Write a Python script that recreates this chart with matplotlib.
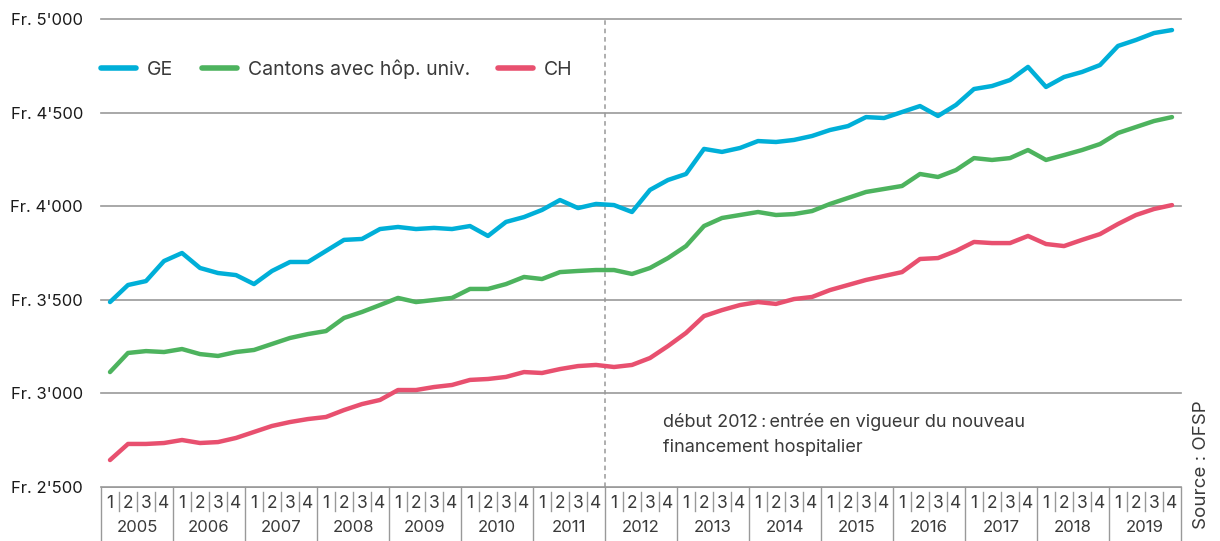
import matplotlib
matplotlib.use("Agg")
import matplotlib.pyplot as plt

plt.rcParams['font.family'] = ['Inter', 'DejaVu Sans']

years = [str(y) for y in range(2005, 2020)]
quarters = ["1", "2", "3", "4"]
ytick_values = [2500, 3000, 3500, 4000, 4500, 5000]
ytick_labels = ["Fr. 2'500", "Fr. 3'000", "Fr. 3'500", "Fr. 4'000", "Fr. 4'500", "Fr. 5'000"]

ge = [3488, 3579, 3600, 3707, 3750, 3670, 3643, 3632, 3584, 3654,
      3702, 3702, 3761, 3820, 3825, 3878, 3889, 3878, 3884, 3878,
      3894, 3841, 3916, 3942, 3980, 4033, 3990, 4012, 4006, 3969,
      4087, 4140, 4172, 4306, 4290, 4311, 4348, 4343, 4354, 4375,
      4407, 4428, 4476, 4471, 4503, 4535, 4482, 4541, 4626, 4642,
      4674, 4744, 4637, 4690, 4717, 4754, 4856, 4888, 4925, 4941]
cantons = [3114, 3216, 3226, 3221, 3237, 3210, 3200, 3221, 3232, 3264,
           3296, 3317, 3333, 3403, 3435, 3472, 3510, 3488, 3499, 3510,
           3558, 3558, 3584, 3622, 3611, 3648, 3654, 3659, 3659, 3638,
           3670, 3723, 3787, 3894, 3937, 3953, 3969, 3953, 3958, 3974,
           4012, 4044, 4076, 4092, 4108, 4172, 4156, 4193, 4257, 4247,
           4257, 4300, 4247, 4273, 4300, 4332, 4391, 4423, 4455, 4476]
ch = [2644, 2730, 2730, 2735, 2751, 2735, 2740, 2762, 2794, 2826,
      2847, 2863, 2874, 2911, 2943, 2965, 3018, 3018, 3034, 3045,
      3072, 3077, 3088, 3114, 3109, 3130, 3146, 3152, 3141, 3152,
      3189, 3253, 3323, 3413, 3445, 3472, 3488, 3478, 3504, 3515,
      3552, 3579, 3606, 3627, 3648, 3718, 3723, 3761, 3809, 3803,
      3803, 3841, 3798, 3787, 3820, 3851, 3905, 3953, 3985, 4006]

series_names = ["GE", "Cantons avec hôp. univ.", "CH"]
colors = ["#00AFD8", "#4DB35E", "#E8506F"]

W, H = 1220, 541
fig = plt.figure(figsize=(W / 100, H / 100), dpi=100)

left, right, top, bottom = 101, 1181, 19, 487
ax = fig.add_axes([left / W, (H - bottom) / H, (right - left) / W, (bottom - top) / H])
n = len(ge)
x = list(range(n))
for vals, name, c in zip([ge, cantons, ch], series_names, colors):
    ax.plot(x, vals, color=c, lw=3.2, solid_capstyle='round', solid_joinstyle='round', label=name, zorder=3)

ax.set_xlim(-0.5, n - 0.5)
ax.set_ylim(2500, 5000)
for s in ["top", "right", "left"]:
    ax.spines[s].set_visible(False)
ax.spines["bottom"].set_color("#999999")
ax.spines["bottom"].set_linewidth(1.2)
ax.set_xticks([])
ax.set_yticks(ytick_values)
ax.set_yticklabels(ytick_labels)
ax.tick_params(axis='y', length=0, pad=13, labelsize=12, labelcolor="#1a1a1a")
for v in ytick_values[1:]:
    ax.axhline(v, color="#999999", lw=1.2, zorder=1, clip_on=False)
ax.axvline(27.5, color="#999999", lw=1.1, ls=(0, (3, 2.5)), zorder=2)

ax.text(30.7, 2895, "début 2012\u2009:\u2009entrée en vigueur du nouveau\nfinancement hospitalier",
        fontsize=13, color="#3a3a3a", va='top', ha='left', linespacing=1.6,
        family=['Inter', 'DejaVu Sans'])

leg = ax.legend(loc='center left', bbox_to_anchor=(101 / W, 1 - 69 / H), bbox_transform=fig.transFigure,
                ncol=3, frameon=False, prop={'size': 14}, handlelength=1.8,
                handletextpad=0.57, columnspacing=1.45, borderpad=0, borderaxespad=0)
for t in leg.get_texts():
    t.set_color("#3a3a3a")
for h in leg.get_lines():
    h.set_linewidth(4)
    h.set_solid_capstyle('round')

# category table below
tab = fig.add_axes([left / W, 0, (right - left) / W, (H - bottom) / H])
tab.set_xlim(-0.5, n - 0.5)
tab.set_ylim(0, H - bottom)
tab.axis('off')
tab.plot([-0.5, n - 0.5], [H - bottom, H - bottom], color="#999999", lw=1.2)
for i in range(n):
    tab.text(i, 38, quarters[i % 4], ha='center', va='center', fontsize=12.5, color="#3a3a3a")
    if i % 4 != 0:
        tab.plot([i - 0.5, i - 0.5], [30, 49], color="#999999", lw=1)
for k, yr in enumerate(years):
    tab.text(4 * k + 1.5, 13, yr, ha='center', va='center', fontsize=12, color="#3a3a3a")
for k in range(len(years) + 1):
    tab.plot([4 * k - 0.5, 4 * k - 0.5], [0, H - bottom], color="#999999", lw=1, clip_on=False)

fig.text(1202 / W, 1 - 465 / H, "Source : OFSP", rotation=90, ha='center', va='center',
         fontsize=13.5, color="#3a3a3a", family=['Inter', 'DejaVu Sans'])

fig.savefig("out.png", dpi=100)
